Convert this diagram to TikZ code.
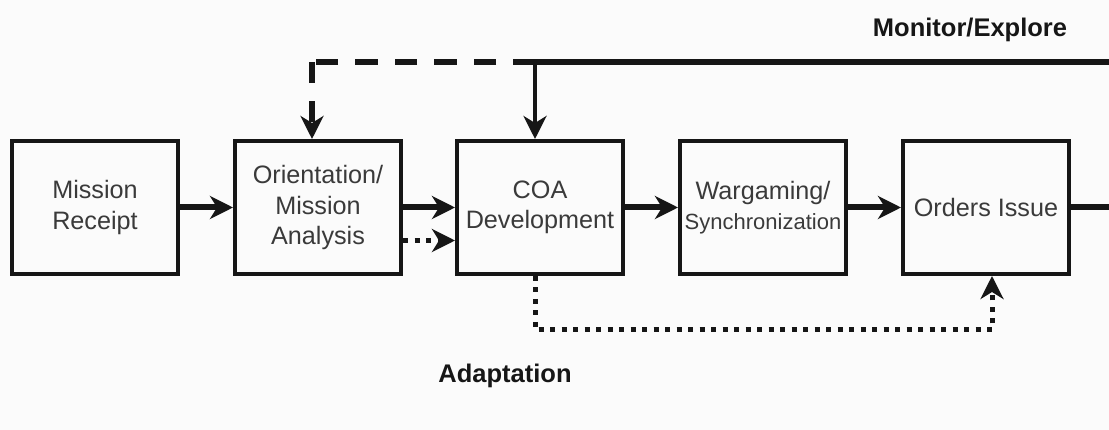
\documentclass[tikz,border=0pt]{standalone}
\usepackage{fontspec}
\setmainfont{Liberation Sans}
\usetikzlibrary{arrows.meta}
\definecolor{bgcol}{HTML}{FBFBFB}
\definecolor{ink}{HTML}{161616}
\definecolor{txt}{HTML}{3A3A3A}
\begin{document}
\begin{tikzpicture}[x=1pt,y=-1pt,
  stepbox/.style={draw=ink, line width=4pt, minimum width=166pt, minimum height=133pt,
    inner sep=0pt, align=center, text=txt, font=\fontsize{25.2}{30.5}\selectfont},
  head/.style={-{Stealth[length=23pt,width=23pt,inset=7pt]}},
  flow/.style={draw=ink, line width=6pt, head},
  feed/.style={draw=ink, line width=4pt, head},
  dashline/.style={draw=ink, line width=6pt, dash pattern=on 22.5pt off 17pt, dash phase=22.5pt},
  dotline/.style={draw=ink, line width=5pt, dash pattern=on 5pt off 6.5pt, head},
  tag/.style={anchor=base, text=ink, font=\fontsize{25.5}{30}\selectfont\bfseries}]

% canvas
\fill[bgcol] (0,0) rectangle (1109,430);
\useasboundingbox (0,0) rectangle (1109,430);

% process steps
\node[stepbox] (mr)  at (95,207.5)  {Mission\\Receipt};
\node[stepbox] (ori) at (318,207.5) {Orientation/\\Mission\\Analysis};
\node[stepbox] (coa) at (540,207.5) {COA\\Development};
\node[stepbox] (wg)  at (763,207.5) {Wargaming/\\{\fontsize{22}{28}\selectfont Synchronization}};
\node[stepbox] (ord) at (986,207.5) {Orders Issue};

% loop labels
\node[tag] (mon) at (970,36.5) {Monitor/Explore};
\node[tag] (ada) at (505,382) {Adaptation};

% junction points of the feedback loops
\coordinate (jn) at (513,62);
\coordinate (jc) at (535,62);
\coordinate (corner) at (312,62);
\coordinate (rt) at (1109,62);
\coordinate (out) at (1109,207.5);
\coordinate (dl) at (535,330);
\coordinate (dr) at (992,330);

% main flow
\draw[flow] (mr.east) -- (ori.west);
\draw[flow] (ori.east) -- (coa.west);
\draw[flow] (coa.east) -- (wg.west);
\draw[flow] (wg.east) -- (ord.west);
\draw[draw=ink, line width=6pt] (ord.east) -- (out);
\draw[dotline] ([yshift=-33pt]ori.east) -- ([yshift=-33pt]coa.west);

% monitor / explore loop
\draw[draw=ink, line width=6pt] (jn) -- (rt);
\draw[feed] (jc) -- (jc |- coa.north);
\draw[dashline] (jn) -- (corner);
\draw[draw=ink, line width=6pt, dash pattern=on 21pt off 18pt, head] ([yshift=-0.1pt]corner) -- (corner |- ori.north);

% adaptation loop
\draw[dotline] (coa.south -| dl) -- (dl) -- (dr) -- (ord.south -| dr);
\end{tikzpicture}
\end{document}
